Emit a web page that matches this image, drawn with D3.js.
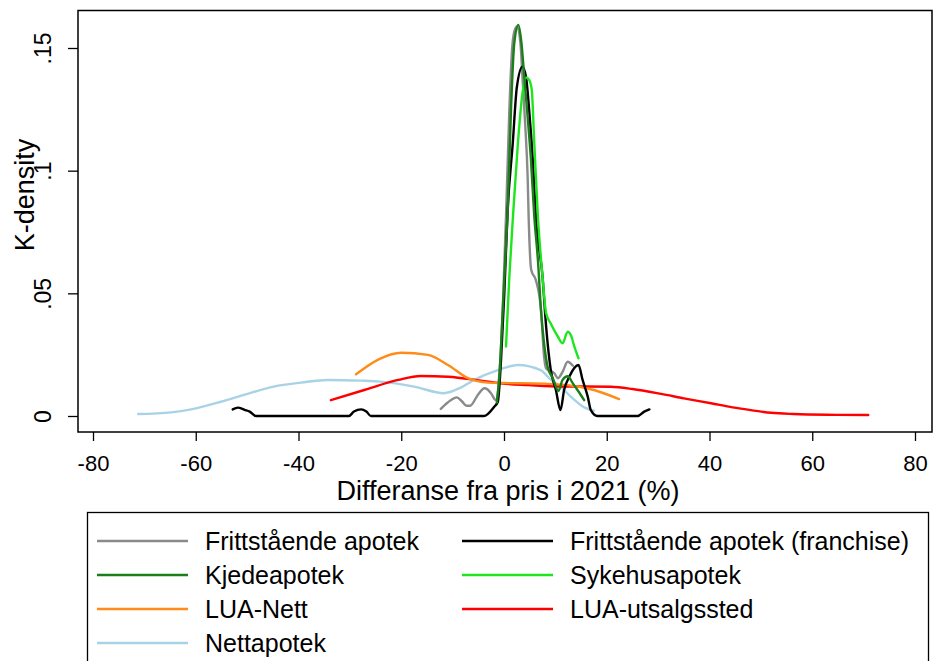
<!DOCTYPE html>
<html><head><meta charset="utf-8">
<script src="https://cdn.jsdelivr.net/npm/d3@7"></script>
<style>
html,body{margin:0;padding:0;background:#fff;}
svg text{font-family:"Liberation Sans",Arial,sans-serif;fill:#000;}
</style></head>
<body><svg id="chart" width="935" height="661"></svg>
<script>
// ---- data (x = % difference, y = kernel density) ----
const seriesNames = ["Frittstående apotek","Frittstående apotek (franchise)","Kjedeapotek","Sykehusapotek","LUA-Nett","LUA-utsalgssted","Nettapotek"];
const seriesColors = ["#8a8a8a","#000000","#1a7f1a","#1ee61e","#ff8c1a","#ff0000","#a8d3e6"];

const frittstaende = [[-12.3,0.0029],[-10.3,0.0065],[-9.2,0.0076],[-8.2,0.006],[-7.3,0.0042],[-6.6,0.0042],[-5.1,0.0086],[-3.8,0.0113],[-3.2,0.0108],[-2.5,0.0092],[-1.6,0.0065],[-0.9,0.0174],[-0.25,0.043],[0.2,0.070],[0.39,0.0812],[1.04,0.1247],[1.56,0.149],[2.0,0.1567],[2.5,0.1587],[3.2,0.152],[3.6,0.138],[4.15,0.118],[4.6,0.0976],[4.8,0.081],[5.3,0.0595],[6.2,0.0554],[7.2,0.0432],[7.8,0.0242],[8.2,0.0194],[9.8,0.0174],[10.5,0.0154],[11.4,0.018],[12.4,0.0221],[13.4,0.0205]];
const franchise = [[-52.8,0.0027],[-51.8,0.0034],[-50.5,0.0025],[-49.5,0.0018],[-48.3,0],[-30.2,0],[-29.2,0.0018],[-27.8,0.0027],[-26.8,0.0018],[-25.9,0],[-3.9,0],[-1.9,0.0038],[-1.2,0.0058],[-0.58,0.0228],[0.06,0.050],[0.72,0.084],[1.7,0.111],[2.5,0.134],[3.6,0.1424],[4.3,0.138],[4.9,0.1247],[5.6,0.1044],[6.2,0.0812],[7.5,0.0568],[8.2,0.0364],[9.1,0.0188],[10.1,0.0106],[11.0,0.0024],[11.7,0.0106],[12.7,0.016],[14.5,0.0208],[15.3,0.0147],[16.3,0.0079],[16.9,0.0024],[18.2,0],[26,0],[27.3,0.0018],[28.3,0.0027]];
const kjede = [[-1.4,0.0055],[-0.9,0.016],[-0.25,0.043],[0.4,0.070],[0.72,0.084],[1.36,0.1247],[2.0,0.152],[2.8,0.1594],[3.4,0.152],[3.95,0.138],[4.6,0.122],[5.25,0.1044],[5.9,0.0812],[6.6,0.0636],[7.2,0.0432],[7.8,0.0296],[8.5,0.020],[9.5,0.0154],[10.6,0.0102],[11.4,0.0147],[12.4,0.0162],[13.4,0.0133],[14.3,0.0106],[15.6,0.0065]];
const sykehus = [[0.39,0.0283],[1.04,0.0568],[1.8,0.083],[2.7,0.111],[3.6,0.1316],[4.3,0.138],[4.9,0.137],[5.4,0.133],[5.9,0.111],[6.6,0.0812],[7.5,0.0568],[8.2,0.0419],[9.1,0.0377],[10.5,0.0323],[11.4,0.0296],[12.4,0.0344],[13.0,0.033],[13.7,0.0283],[14.5,0.0235]];
const luaNett = [[-28.8,0.017],[-24.3,0.0232],[-20,0.0258],[-14.8,0.0249],[-10.9,0.0208],[-7,0.0154],[-3.1,0.0136],[1,0.0134],[5.8,0.0133],[12.4,0.0126],[17.5,0.0106],[22.4,0.0069]];
const luaUtsalg = [[-33.7,0.0065],[-27.2,0.0106],[-20.6,0.0147],[-16.2,0.0163],[-10.9,0.016],[-4.5,0.0144],[-0.6,0.0133],[4.7,0.0126],[11.1,0.012],[16,0.012],[20.8,0.0119],[25,0.011],[30.6,0.009],[35,0.0072],[40.3,0.0052],[44.5,0.0035],[48.7,0.0022],[52,0.0013],[56.4,0.0008],[63,0.0005],[70.9,0.0004]];
const nettapotek = [[-71.2,0.0008],[-64.8,0.0015],[-60.9,0.0027],[-55.1,0.0058],[-50.6,0.0086],[-44.8,0.012],[-39.5,0.0136],[-34.3,0.0147],[-27.8,0.0144],[-24,0.014],[-17.5,0.012],[-11.7,0.0093],[-8.5,0.0115],[-5.8,0.0147],[-1.2,0.0187],[2.7,0.0208],[7.2,0.0186],[9.1,0.0148],[11.1,0.0118],[13,0.0079],[15.6,0.0035],[17.5,0.0022]];

const xTicks = [-80,-60,-40,-20,0,20,40,60,80];
const xTickLabels = ["-80","-60","-40","-20","0","20","40","60","80"];
const yTicks = [0,0.05,0.1,0.15];
const yTickLabels = ["0",".05",".1",".15"];
const xTitle = "Differanse fra pris i 2021 (%)";
const yTitle = "K-density";

// draw order (back to front)
const drawOrder = [
  {data: nettapotek, i:6},
  {data: luaUtsalg, i:5},
  {data: luaNett, i:4},
  {data: frittstaende, i:0},
  {data: franchise, i:1},
  {data: sykehus, i:3},
  {data: kjede, i:2}
];

const svg = d3.select("#chart");
svg.append("rect").attr("width",935).attr("height",661).attr("fill","#fff");

const x = d3.scaleLinear().domain([-80,80]).range([93,915]);
const y = d3.scaleLinear().domain([0,0.15]).range([416,48]);

// plot frame
svg.append("rect").attr("x",78).attr("y",10.5).attr("width",854).attr("height",421.5)
  .attr("fill","none").attr("stroke","#000").attr("stroke-width",1.5);

const line = d3.line().x(d=>x(d[0])).y(d=>y(d[1])).curve(d3.curveMonotoneX);
drawOrder.forEach(s=>{
  svg.append("path").attr("d",line(s.data)).attr("fill","none")
    .attr("stroke",seriesColors[s.i]).attr("stroke-width",2.4)
    .attr("stroke-linejoin","round").attr("stroke-linecap","round");
});

// x axis
const gx = svg.append("g").attr("transform","translate(0,432)")
  .call(d3.axisBottom(x).tickValues(xTicks).tickSize(9).tickSizeOuter(0).tickPadding(14).tickFormat((d,i)=>xTickLabels[i]));
gx.select(".domain").remove();
gx.selectAll(".tick line").attr("stroke","#000").attr("stroke-width",1.3);
gx.selectAll(".tick text").attr("font-size",22).attr("font-family","Liberation Sans, Arial, sans-serif").attr("dy","0.71em");

// y axis
const gy = svg.append("g").attr("transform","translate(78,0)")
  .call(d3.axisLeft(y).tickValues(yTicks).tickSize(10).tickSizeOuter(0).tickFormat((d,i)=>yTickLabels[i]));
gy.select(".domain").remove();
gy.selectAll(".tick line").attr("stroke","#000").attr("stroke-width",1.3);
gy.selectAll(".tick text").attr("font-size",23).attr("font-family","Liberation Sans, Arial, sans-serif")
  .attr("x",null).attr("dy",null).attr("text-anchor","middle")
  .attr("transform","translate(-27,0) rotate(-90)").attr("y",0);

// axis titles
svg.append("text").attr("x",508).attr("y",500).attr("text-anchor","middle").attr("font-size",27).text(xTitle);
svg.append("text").attr("transform","translate(34,195) rotate(-90)").attr("text-anchor","middle").attr("font-size",27).text(yTitle);

// legend
svg.append("rect").attr("x",87.5).attr("y",512.5).attr("width",841).attr("height",200)
  .attr("fill","none").attr("stroke","#000").attr("stroke-width",1.3);
const legendOrder = [0,1,2,3,4,5,6];
legendOrder.forEach((si,k)=>{
  const col = k%2, row = Math.floor(k/2);
  const lx = col===0 ? 97 : 462;
  const ly = 541 + row*34;
  svg.append("line").attr("x1",lx).attr("x2",lx+91).attr("y1",ly).attr("y2",ly)
    .attr("stroke",seriesColors[si]).attr("stroke-width",2.4);
  svg.append("text").attr("x",lx+108).attr("y",ly+9).attr("font-size",25).text(seriesNames[si]);
});
</script></body></html>
